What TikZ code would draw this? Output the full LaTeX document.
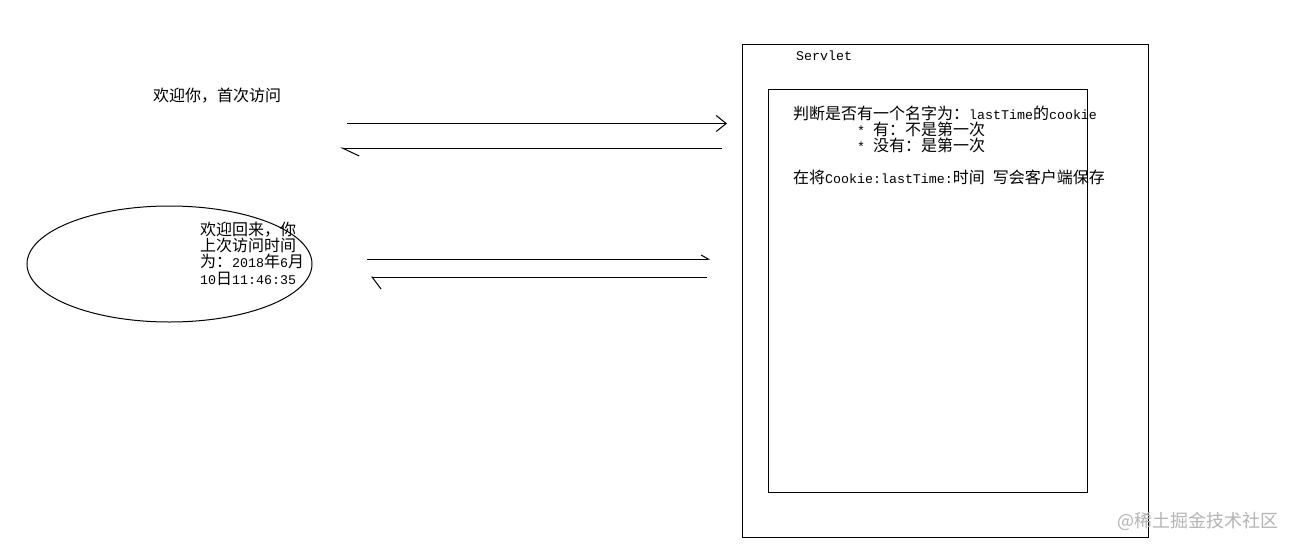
\documentclass[tikz,border=0pt]{standalone}
\usepackage{fontspec}
\usetikzlibrary{arrows.meta,shapes.geometric}
\newfontfamily\cjk{Noto Sans CJK SC}
\newfontfamily\latn{Liberation Mono}
\newcommand\hw[1]{{\latn\fontsize{13.3}{16}\selectfont #1}}
\definecolor{markgray}{RGB}{180,180,180}
\tikzset{cookiepic/.style={
  x=1pt, y=-1pt,
  txt/.style={anchor=base west, inner sep=0pt, font=\cjk\fontsize{16}{16}\selectfont},
  box/.style={draw, line width=1pt, inner sep=0pt},
  req/.style={line width=1pt},
}}

\begin{document}
\begin{tikzpicture}[cookiepic]

\fill[white] (0,0) rectangle (1293,549);
\useasboundingbox (0,0) rectangle (1293,549);

% ---- server side ----
\node[box, minimum width=406pt, minimum height=493pt] (servlet) at (945,290.5) {};
\node[box, minimum width=319pt, minimum height=403pt] (logic) at (927.5,290.5) {};
\node[txt] (sname) at (796,60) {\hw{Servlet}};

\node[txt] (check) at (793,119) {判断是否有一个名字为：\hw{lastTime}的\hw{cookie}};
\node[txt] (yes)   at (857,135) {\hw{* }有：不是第一次};
\node[txt] (no)    at (857,151) {\hw{* }没有：是第一次};
\node[txt] (write) at (793,183) {在将\hw{Cookie:lastTime:}时间\hw{ }写会客户端保存};

% ---- client side ----
\node[txt] (first) at (153,101) {欢迎你，首次访问};

\node[ellipse, draw, line width=1pt, inner sep=0pt,
      minimum width=285pt, minimum height=116pt] (back) at (169.5,264) {};
\node[txt] (l1) at (200,235) {欢迎回来，你};
\node[txt] (l2) at (200,251.3) {上次访问时间};
\node[txt] (l3) at (200,267.6) {为：\hw{2018}年\hw{6}月};
\node[txt] (l4) at (200,284) {\hw{10}日\hw{11:46:35}};

% ---- requests and responses ----
\coordinate (q1s) at (347,123.5);
\coordinate (q1e) at (727,123.5);
\coordinate (a1s) at (722,148);
\coordinate (a1e) at (340,148);
\coordinate (q2s) at (367,259);
\coordinate (q2e) at (710,259);
\coordinate (a2s) at (707,277);
\coordinate (a2e) at (371,277);

\draw[req, -{Straight Barb[length=10pt,width=16pt]}] (q1s) -- (q1e);
\draw[req, -{Straight Barb[left,length=17pt,width=16pt]}] (a1s) -- (a1e);
\draw[req, -{Straight Barb[left,length=7pt,width=8pt]}] (q2s) -- (q2e);
\draw[req, -{Straight Barb[left,length=9pt,width=24pt]}] (a2s) -- (a2e);

% ---- watermark ----
\node[txt, font=\cjk\fontsize{18}{18}\selectfont, text=markgray] (mark) at (1117,527) {@稀土掘金技术社区};

\end{tikzpicture}
\end{document}
